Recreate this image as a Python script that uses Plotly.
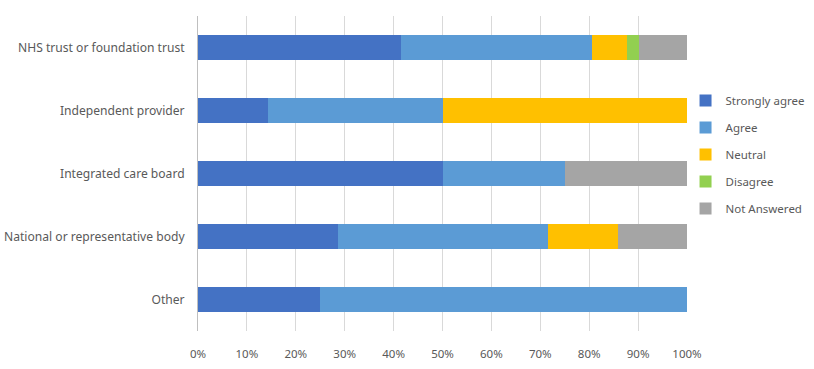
import plotly.graph_objects as go

categories = ["NHS trust or foundation trust", "Independent provider", "Integrated care board",
              "National or representative body", "Other"]
series_names = ["Strongly agree", "Agree", "Neutral", "Disagree", "Not Answered"]
strongly_agree = [41.5, 14.3, 50.0, 28.6, 25.0]
agree = [39.0, 35.7, 25.0, 42.9, 75.0]
neutral = [7.3, 50.0, 0.0, 14.3, 0.0]
disagree = [2.4, 0.0, 0.0, 0.0, 0.0]
not_answered = [9.8, 0.0, 25.0, 14.3, 0.0]
tick_vals = [0, 10, 20, 30, 40, 50, 60, 70, 80, 90, 100]
tick_text = ["0%", "10%", "20%", "30%", "40%", "50%", "60%", "70%", "80%", "90%", "100%"]

colors = ["#4472C4", "#5B9BD5", "#FFC000", "#92D050", "#A5A5A5"]
series = [strongly_agree, agree, neutral, disagree, not_answered]

fig = go.Figure()
for name, vals, col in zip(series_names, series, colors):
    fig.add_trace(go.Bar(y=categories, x=vals, name=name, orientation="h",
                         marker=dict(color=col, line=dict(width=0)),
                         legendgroup=name, hoverinfo="x+name"))

fam = "Noto Sans, Liberation Sans, sans-serif"
font = dict(family=fam, size=12, color="#595959")
fig.update_layout(
    barmode="stack", bargap=0.59,
    width=814, height=369,
    margin=dict(l=198, r=127, t=16, b=38, autoexpand=False),
    paper_bgcolor="white", plot_bgcolor="white",
    font=font,
    legend=dict(x=0.997, xanchor="left", y=0.56, yanchor="middle",
                traceorder="grouped", tracegroupgap=8, bgcolor="rgba(0,0,0,0)",
                font=dict(family=fam, size=11.5, color="#595959"),
                itemwidth=30),
    xaxis=dict(range=[0, 100], tickvals=tick_vals, ticktext=tick_text,
               showgrid=True, gridcolor="#D9D9D9", gridwidth=1,
               zeroline=False, showline=False, ticks="", ticklabelstandoff=14,
               fixedrange=True, automargin=False,
               tickfont=dict(family=fam, size=11.5, color="#595959")),
    yaxis=dict(autorange="reversed", showline=True, linecolor="#BFBFBF", linewidth=1,
               ticks="", ticklabelstandoff=10, showgrid=False, automargin=False,
               tickfont=dict(family=fam, size=12.1, color="#595959")),
)
fig.write_html("out.html", config={"displayModeBar": False},
               post_script="document.body.style.margin='0';document.body.style.overflow='hidden';")
